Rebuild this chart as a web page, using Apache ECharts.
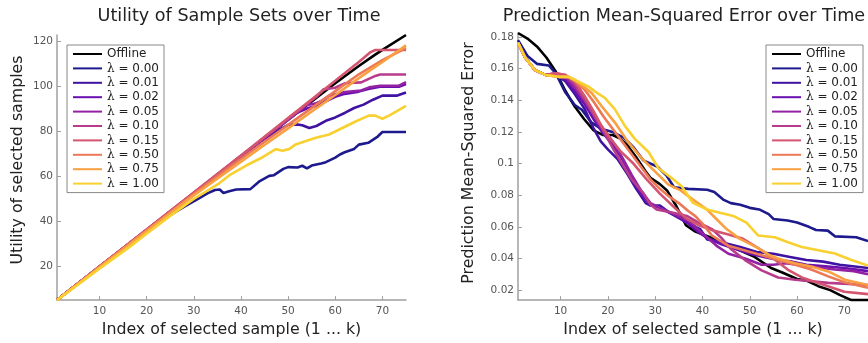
<!DOCTYPE html>
<html lang="en">
  <head>
    <meta charset="UTF-8" />
    <title>Utility and MSE over Time</title>
    <script src="https://cdn.jsdelivr.net/npm/echarts@6/dist/echarts.min.js"></script>
    <style>
      html, body { margin: 0; padding: 0; background: #fff; }
      #main { width: 868px; height: 343px; }
    </style>
  </head>
  <body>
    <div id="main"></div>

    <script>
      // series names and colours (plasma-like)
      var names = ["Offline", "λ = 0.00", "λ = 0.01", "λ = 0.02", "λ = 0.05", "λ = 0.10", "λ = 0.15", "λ = 0.50", "λ = 0.75", "λ = 1.00"];
      var colors = ["#000000", "#1c1a8c", "#3f12a2", "#6a10b0", "#9322a2", "#b83c8c", "#d4556f", "#ec7856", "#f9a040", "#f8d030"];

      var xTicks = [10, 20, 30, 40, 50, 60, 70];
      var utilTicks = [20, 40, 60, 80, 100, 120];
      var mseTicks = [0.02, 0.04, 0.06, 0.08, 0.1, 0.12, 0.14, 0.16, 0.18];

      // left panel: utility of selected samples, [index, utility]
      var utilOffline = [[1,5],[10,19.8],[20,36.2],[30,52.6],[40,69],[50,85.3],[60,101.5],[65,109.2],[68,113.6],[70,116.4],[75,123]];
      var util000 = [[1,5],[10,19.8],[20,36],[23,40.4],[25,42.8],[28,46.6],[31,50.2],[33,52.6],[34.5,54],[35.5,54.2],[36.3,52.7],[37.5,53.4],[39,54.2],[42,54.4],[44,58],[46,60.3],[47,60.6],[49,63.4],[50,64.2],[52,64],[53,64.8],[54,63.6],[55,64.9],[57,65.8],[58,66.4],[60,68.4],[61,69.8],[62,70.8],[64,72.3],[65,74.2],[67,75],[69,77.8],[70,79.8],[75,79.8]];
      var util001 = [[1,5],[10,19.8],[20,36.2],[30,52.6],[40,69],[44,75.4],[46,78.2],[48,80.8],[50,83],[52,83.2],[53,82.8],[54.5,81.6],[56,82.5],[58,84.8],[60,86.3],[62,88.3],[64,90.5],[66,92],[68,94.2],[70,96],[73,96],[75,97.4]];
      var util002 = [[1,5],[10,19.8],[20,36.2],[30,52.6],[40,69],[50,85.3],[52,88.5],[54,90.3],[56,91.5],[58,93.5],[60,95.5],[62,96.8],[65,97.8],[67,99],[69.5,100],[73.5,100],[75,101.2]];
      var util005 = [[1,5],[10,19.8],[20,36.2],[30,52.6],[40,69],[50,85.3],[52,88.6],[53.8,91.7],[56,92.6],[57.3,93.9],[58.7,96],[62,97.6],[65.5,98.3],[67.2,99.7],[69.5,100.4],[73.5,100.4],[75,102]];
      var util010 = [[1,5],[10,19.9],[20,36.3],[30,52.8],[40,69.2],[50,85.6],[56,95.5],[57.5,98.8],[60,99.5],[62,101.5],[65.5,101.9],[68.5,104.8],[69.5,105.4],[75,105.4]];
      var util015 = [[1,5],[10,19.9],[20,36.4],[30,52.9],[40,69.4],[50,86],[60,102.6],[65,111],[67.5,115.4],[68.5,116.3],[75,116.3]];
      var util050 = [[1,5],[10,19.8],[20,36],[30,52.2],[37.5,64],[45,75.5],[50,83],[56,92],[60,98],[65,105.5],[70,111.8],[75,117.2]];
      var util075 = [[1,5],[10,19.5],[20,35.6],[30,51.6],[37.5,62.8],[44.6,73.5],[51.6,83.8],[56.2,90.7],[60,96.3],[65,103.8],[70,111],[75,118.4]];
      var util100 = [[1,5],[10,19],[16.4,28.7],[20,34.5],[25,42.5],[30,50],[35.4,57],[37.5,60.5],[41.1,64.9],[44.6,68.6],[47.4,72.2],[48.8,71.5],[50.2,72.2],[51.6,74.3],[53.8,75.8],[55.9,77.3],[58.7,78.7],[61.5,81.6],[64.3,84.5],[67.1,87.1],[68.5,87.1],[70,85.7],[71.4,87.1],[75,91.5]];

      // right panel: prediction mean-squared error, [index, mse]
      var mseOffline = [[1,0.1825],[3,0.179],[5,0.174],[7,0.167],[9,0.158],[11,0.146],[13,0.136],[15,0.128],[17,0.121],[19,0.118],[21,0.118],[22.5,0.116],[24,0.112],[26,0.104],[28,0.095],[29,0.091],[31,0.087],[32.5,0.083],[34.5,0.073],[36.5,0.061],[38.5,0.057],[42,0.053],[45,0.049],[48,0.045],[51,0.041],[54.5,0.034],[57,0.031],[60,0.027],[62,0.026],[64.5,0.0225],[67,0.02],[69,0.017],[71.5,0.0137],[75,0.0137]];
      var mse000 = [[1,0.178],[3,0.168],[5,0.163],[7.5,0.162],[9,0.157],[11,0.145],[13,0.137],[14.5,0.134],[16.5,0.126],[18.5,0.122],[21,0.12],[23.5,0.116],[25.5,0.11],[27.5,0.102],[30.5,0.098],[32.5,0.092],[34,0.085],[37,0.084],[41,0.0834],[42.5,0.082],[44.5,0.077],[46,0.075],[48,0.074],[50,0.072],[52,0.071],[54,0.068],[55,0.065],[58,0.064],[60,0.0627],[62.5,0.06],[64,0.058],[66.5,0.0576],[68,0.054],[72.5,0.0534],[75,0.051]];
      var mse001 = [[1,0.1765],[2.5,0.167],[4.6,0.159],[6.8,0.156],[9,0.156],[11,0.152],[13,0.144],[15,0.135],[17,0.122],[18.5,0.114],[20,0.109],[22,0.103],[24,0.094],[26,0.084],[28,0.075],[29,0.0735],[31,0.0735],[33,0.069],[36,0.064],[39.5,0.0586],[41,0.052],[44,0.0503],[48,0.0472],[51.5,0.0441],[55,0.043],[58.5,0.041],[62,0.039],[65.5,0.038],[69,0.036],[75,0.034]];
      var mse002 = [[1,0.1765],[2.5,0.167],[4.6,0.159],[6.8,0.156],[9,0.156],[11,0.153],[13,0.146],[15,0.138],[17,0.128],[19,0.119],[21,0.112],[23,0.103],[25,0.092],[27,0.081],[29,0.074],[31,0.072],[33,0.069],[35,0.066],[37,0.062],[39,0.057],[41,0.053],[44,0.049],[47,0.046],[50,0.043],[53,0.041],[56,0.039],[59,0.038],[62,0.036],[66,0.035],[70,0.034],[75,0.032]];
      var mse005 = [[1,0.1765],[2.5,0.167],[4.6,0.159],[6.8,0.156],[9,0.157],[11,0.155],[13,0.148],[15,0.14],[17,0.131],[19,0.122],[21,0.114],[23,0.104],[25,0.093],[27,0.083],[29,0.075],[31,0.072],[34,0.068],[37,0.064],[40,0.056],[43,0.048],[45.5,0.043],[49,0.04],[52.5,0.036],[55,0.036],[57.6,0.037],[60,0.036],[63,0.035],[68,0.033],[72,0.032],[75,0.03]];
      var mse010 = [[1,0.1765],[2.5,0.167],[4.6,0.159],[6.8,0.156],[9,0.157],[11,0.156],[13,0.15],[15,0.141],[17,0.131],[19,0.121],[21,0.11],[23,0.1],[25,0.09],[27.5,0.0813],[29,0.0741],[30.3,0.071],[33.8,0.0689],[36.7,0.0669],[39,0.063],[42,0.0586],[44,0.053],[46,0.046],[49,0.039],[52.5,0.0325],[56,0.028],[59.6,0.0266],[63.1,0.0256],[66.6,0.0246],[75,0.0232]];
      var mse015 = [[1,0.1765],[2.5,0.167],[4.6,0.159],[6.8,0.156],[9,0.157],[11,0.156],[13,0.152],[15,0.143],[17,0.133],[18.5,0.1246],[20.5,0.116],[22.6,0.108],[25.4,0.1],[28.2,0.09],[31,0.081],[33.8,0.073],[36.7,0.065],[39.5,0.0607],[42.3,0.0576],[45.1,0.0555],[48.6,0.0524],[52.1,0.046],[55,0.04],[58,0.033],[61,0.028],[64,0.025],[67,0.022],[70,0.019],[75,0.0175]];
      var mse050 = [[1,0.1765],[2.5,0.167],[4.6,0.159],[6.8,0.156],[9.6,0.1548],[11.7,0.1548],[13,0.152],[15,0.147],[17,0.139],[19,0.13],[21,0.122],[23,0.114],[25,0.106],[27,0.098],[29,0.09],[31,0.084],[33,0.079],[35,0.075],[37,0.07],[38.5,0.0668],[40,0.062],[42,0.0545],[45.5,0.048],[49,0.045],[52.5,0.042],[56,0.039],[59.6,0.036],[63,0.033],[66.6,0.0287],[70,0.025],[75,0.0215]];
      var mse075 = [[1,0.1765],[2.5,0.167],[4.6,0.159],[6.8,0.156],[9.6,0.1548],[11.7,0.1548],[13.1,0.1528],[16.6,0.1445],[18.7,0.1362],[21.5,0.1259],[24.3,0.1135],[27.2,0.1032],[30,0.0949],[32.8,0.0867],[35.4,0.083],[38,0.0772],[40.9,0.071],[43,0.0648],[45.1,0.0586],[47.9,0.0524],[51.4,0.0472],[54.2,0.0421],[56,0.04],[59.6,0.037],[63,0.0349],[66.6,0.0318],[70.1,0.0266],[75,0.0232]];
      var mse100 = [[1,0.1765],[2.5,0.167],[4.6,0.159],[6.8,0.156],[9.6,0.1548],[11.7,0.1548],[13.8,0.1517],[15.9,0.1486],[17.3,0.1455],[19.4,0.1414],[21.5,0.1342],[23.6,0.1238],[25.7,0.1156],[28.6,0.1073],[30.7,0.097],[33.5,0.0908],[35.6,0.0856],[38,0.0751],[40.9,0.071],[43.7,0.0689],[46.5,0.0669],[49.3,0.0627],[51.8,0.0545],[55.3,0.0534],[58.1,0.0503],[61,0.0472],[64.5,0.0452],[68,0.0431],[71.5,0.039],[75,0.0355]];

      var utilSeries = [utilOffline, util000, util001, util002, util005, util010, util015, util050, util075, util100];
      var mseSeries = [mseOffline, mse000, mse001, mse002, mse005, mse010, mse015, mse050, mse075, mse100];

      var font = "DejaVu Sans";
      var axisGray = "#a0a0a0";

      function xAxisFor(idx) {
        return {
          gridIndex: idx,
          type: "value",
          min: 1,
          max: 75,
          name: "Index of selected sample (1 ... k)",
          nameLocation: "middle",
          nameGap: 19,
          nameTextStyle: { fontFamily: font, fontSize: 15.8, color: "#222" },
          axisLine: { show: true, lineStyle: { color: axisGray, width: 1.5 } },
          axisTick: { show: true, inside: true, length: 4, customValues: xTicks, lineStyle: { color: axisGray } },
          axisLabel: { customValues: xTicks, color: "#555", fontFamily: font, fontSize: 10.5, margin: 6 },
          splitLine: { show: false },
        };
      }

      function yAxisFor(idx, min, max, ticks, fmt) {
        return {
          gridIndex: idx,
          type: "value",
          min: min,
          max: max,
          axisLine: { show: true, lineStyle: { color: axisGray, width: 1.5 } },
          axisTick: { show: true, inside: true, length: 4, customValues: ticks, lineStyle: { color: axisGray } },
          axisLabel: { customValues: ticks, color: "#555", fontFamily: font, fontSize: 10.5, margin: 4, formatter: fmt },
          splitLine: { show: false },
        };
      }

      function legendFor(left) {
        return {
          data: names,
          orient: "vertical",
          left: left,
          top: 45,
          itemWidth: 29,
          itemHeight: 14,
          itemGap: 2.4,
          padding: [3, 5, 3, 5],
          backgroundColor: "#fff",
          borderColor: "#888",
          borderWidth: 1,
          borderRadius: 0,
          itemStyle: { opacity: 0 },
          textStyle: {
            fontFamily: font,
            fontSize: 12,
            color: "#222",
            rich: { l: { fontFamily: "DejaVu Serif", fontSize: 12, color: "#222" } },
          },
          formatter: function (n) {
            return n.charAt(0) === "λ" ? "{l|λ}" + n.slice(1) : n;
          },
        };
      }

      var series = [];
      names.forEach(function (n, i) {
        series.push({
          name: n, type: "line", xAxisIndex: 0, yAxisIndex: 0,
          data: utilSeries[i], symbol: "none", color: colors[i],
          lineStyle: { width: 2.6, color: colors[i] },
        });
        series.push({
          name: n, type: "line", xAxisIndex: 1, yAxisIndex: 1,
          data: mseSeries[i], symbol: "none", color: colors[i],
          lineStyle: { width: 2.6, color: colors[i] },
        });
      });

      var myChart = echarts.init(document.getElementById("main"));
      var option = {
        animation: false,
        backgroundColor: "#fff",
        title: [
          { text: "Utility of Sample Sets over Time", left: 234, top: 2, textAlign: "center",
            textStyle: { fontFamily: font, fontSize: 17.6, fontWeight: "normal", color: "#222" } },
          { text: "Prediction Mean-Squared Error over Time", left: 679, top: 2, textAlign: "center",
            textStyle: { fontFamily: font, fontSize: 17.6, fontWeight: "normal", color: "#222" } },
        ],
        grid: [
          { left: 57, right: 462, top: 35, bottom: 37 },
          { left: 518, right: 0, top: 33, bottom: 37 },
        ],
        xAxis: [xAxisFor(0), xAxisFor(1)],
        yAxis: [
          yAxisFor(0, 5, 123, utilTicks, function (v) { return String(v); }),
          yAxisFor(1, 0.0137, 0.1825, mseTicks, function (v) { return String(+v.toFixed(2)); }),
        ],
        legend: [legendFor(67), legendFor(766)],
        graphic: [
          { type: "text", x: 18, y: 160, rotation: Math.PI / 2,
            style: { text: "Utility of selected samples", fontFamily: font, fontSize: 15.8, fill: "#222", align: "center", verticalAlign: "middle" } },
          { type: "text", x: 469, y: 163, rotation: Math.PI / 2,
            style: { text: "Prediction Mean-Squared Error", fontFamily: font, fontSize: 15.8, fill: "#222", align: "center", verticalAlign: "middle" } },
        ],
        series: series,
      };
      myChart.setOption(option);
    </script>
  </body>
</html>
